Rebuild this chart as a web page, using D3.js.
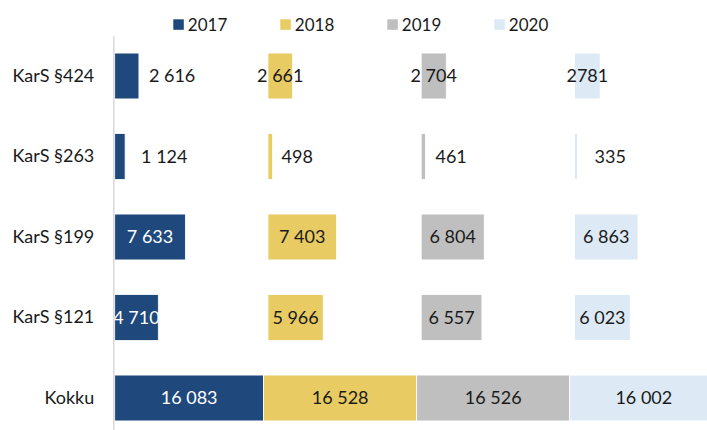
<!DOCTYPE html>
<html>
<head>
<meta charset="utf-8">
<script src="https://cdn.jsdelivr.net/npm/d3@7"></script>
<style>
    body { margin: 0; background: #FFFFFF; }
    text { font-family: Lato, "Open Sans", sans-serif; }
</style>
</head>
<body>
<div id="chart"></div>
<script>
    // Data
    const categories = ["KarS §424", "KarS §263", "KarS §199", "KarS §121", "Kokku"];
    const years = ["2017", "2018", "2019", "2020"];
    const values2017 = [2616, 1124, 7633, 4710, 16083];
    const values2018 = [2661, 498, 7403, 5966, 16528];
    const values2019 = [2704, 461, 6804, 6557, 16526];
    const values2020 = [2781, 335, 6863, 6023, 16002];
    const seriesValues = [values2017, values2018, values2019, values2020];

    // Constants
    const width = 707;
    const height = 430;
    const margin = {top: 36, left: 114.7};
    const colors = ["#1F497D", "#E8CB63", "#BFBFBF", "#DDEAF6"];
    const textDark = "#1A1A1A";
    // every year gets its own column in the single rows, the total row is stacked
    const columnSpan = 16550;
    const totalRow = "Kokku";

    // labels that Excel had dragged off the thin bars (start of text = bar end + dx)
    const labelOutside = {
        "KarS §424|2017": 10,
        "KarS §263|2017": 16,
        "KarS §263|2018": 9,
        "KarS §263|2019": 10,
        "KarS §263|2020": 17
    };

    const spaceFormat = d3.formatLocale({thousands: " ", grouping: [3], decimal: ",", currency: ["", ""]}).format(",d");

    function labelText(cat, year, v)
    {
        // the original shows this one without a group space
        if(cat === "KarS §424" && year === "2020") return String(v);
        return spaceFormat(v);
    }

    function makeChart()
    {
        let svg = d3.select("#chart")
            .append("svg")
            .attr("width", width)
            .attr("height", height);

        let total = d3.sum(seriesValues, function(s){return s[categories.indexOf(totalRow)]});

        const x = d3.scaleLinear()
            .domain([0, total])
            .range([margin.left, margin.left + total * 0.00926]);

        const y = d3.scaleBand()
            .domain(categories)
            .range([35.75, 438.25])
            .paddingInner(0.43)
            .paddingOuter(0.215);

        // build one record per bar
        let bars = [];
        categories.forEach(function(cat, ci)
        {
            let stackStart = 0;
            years.forEach(function(year, yi)
            {
                let v = seriesValues[yi][ci];
                let start = cat === totalRow ? stackStart : yi * columnSpan;
                bars.push({cat: cat, year: year, yi: yi, value: v, x0: start, x1: start + v});
                stackStart += v;
            });
        });

        svg.append("g")
            .selectAll("rect")
            .data(bars)
            .enter()
            .append("rect")
            .attr("x", function(d){return x(d.x0)})
            .attr("y", function(d){return y(d.cat)})
            .attr("width", function(d){return x(d.x1) - x(d.x0)})
            .attr("height", y.bandwidth())
            .attr("fill", function(d){return colors[d.yi]})
            .attr("stroke", "#FFFFFF")
            .attr("stroke-width", 0.8);

        svg.append("g")
            .selectAll("text")
            .data(bars)
            .enter()
            .append("text")
            .attr("x", function(d)
            {
                let dx = labelOutside[d.cat + "|" + d.year];
                if(dx !== undefined) return x(d.x1) + dx;
                return (x(d.x0) + x(d.x1)) / 2;
            })
            .attr("y", function(d){return y(d.cat) + y.bandwidth() / 2})
            .attr("dy", "0.36em")
            .attr("text-anchor", function(d){return labelOutside[d.cat + "|" + d.year] !== undefined ? "start" : "middle"})
            .attr("font-size", 18)
            .attr("fill", function(d)
            {
                if(d.yi === 0 && labelOutside[d.cat + "|" + d.year] === undefined) return "#FFFFFF";
                return textDark;
            })
            .text(function(d){return labelText(d.cat, d.year, d.value)});

        // category axis
        let axis = svg.append("g")
            .attr("transform", "translate(113.3,0)")
            .call(d3.axisLeft(y).tickSize(0).tickPadding(19));

        axis.select(".domain")
            .attr("stroke", "#D9D9D9")
            .attr("stroke-width", 1.5);

        axis.selectAll("text")
            .attr("font-size", 18)
            .attr("fill", textDark)
            .style("font-family", "Lato, 'Open Sans', sans-serif");

        // legend
        let legend = svg.append("g")
            .selectAll("g")
            .data(years)
            .enter()
            .append("g")
            .attr("transform", function(d, i){return "translate(" + (173.3 + i * 107) + ",19.3)"});

        legend.append("rect")
            .attr("width", 10.5)
            .attr("height", 10.5)
            .attr("fill", function(d, i){return colors[i]});

        legend.append("text")
            .attr("x", 14.5)
            .attr("y", 5.25)
            .attr("dy", "0.36em")
            .attr("font-size", 17)
            .attr("fill", textDark)
            .text(function(d){return d});
    }

    makeChart();
</script>
</body>
</html>
